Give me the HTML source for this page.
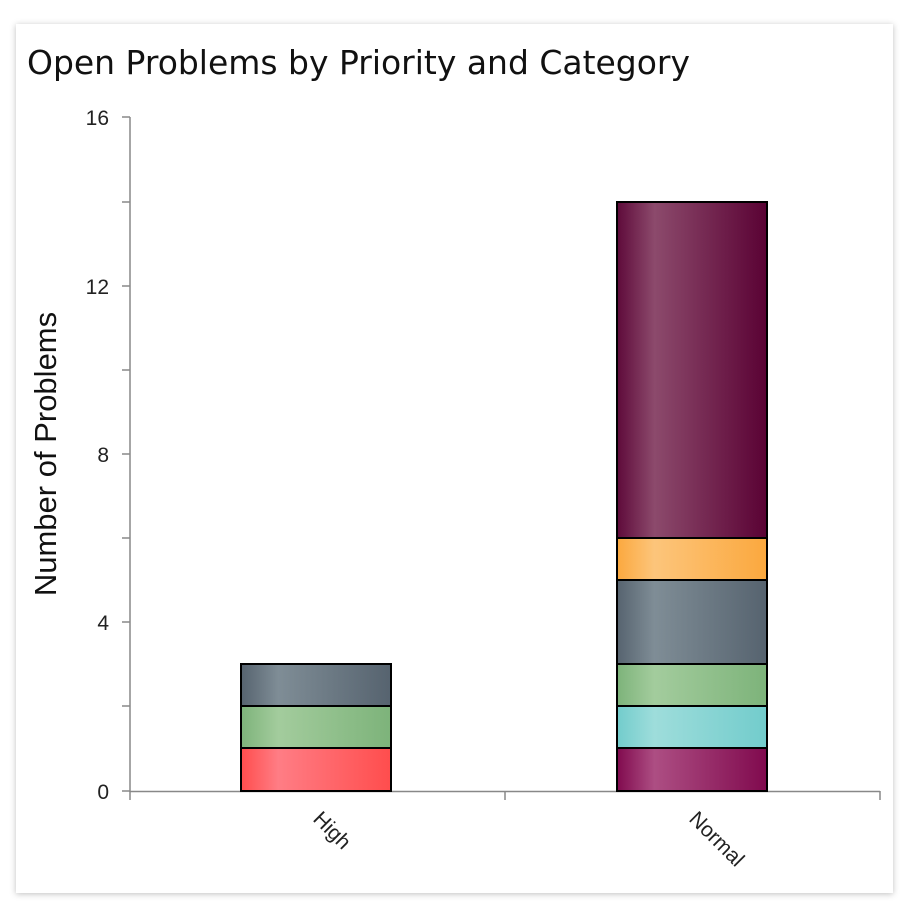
<!DOCTYPE html>
<html><head><style>
body{margin:0;background:#fff;width:903px;height:911px;overflow:hidden}
.card{position:absolute;left:16px;top:24px;width:877px;height:869px;background:#fff;box-shadow:0 1px 6px rgba(0,0,0,0.25)}
svg{position:absolute;left:0;top:0}
text{font-family:"Liberation Sans",sans-serif;fill:#222}
</style></head><body>
<div class="card"></div>
<svg width="903" height="911">
<defs>
<linearGradient id="mar"><stop offset="0" stop-color="#5e0a3a"/><stop offset=".25" stop-color="#8c4a6c"/><stop offset="1" stop-color="#5a0234"/></linearGradient>
<linearGradient id="ora"><stop offset="0" stop-color="#fba83e"/><stop offset=".25" stop-color="#fcc57b"/><stop offset="1" stop-color="#fba83e"/></linearGradient>
<linearGradient id="gra"><stop offset="0" stop-color="#56636f"/><stop offset=".25" stop-color="#7f8d96"/><stop offset="1" stop-color="#56636f"/></linearGradient>
<linearGradient id="gre"><stop offset="0" stop-color="#7db37a"/><stop offset=".25" stop-color="#a3cc9d"/><stop offset="1" stop-color="#7db37a"/></linearGradient>
<linearGradient id="cya"><stop offset="0" stop-color="#72cccc"/><stop offset=".25" stop-color="#9edddb"/><stop offset="1" stop-color="#72cccc"/></linearGradient>
<linearGradient id="mag"><stop offset="0" stop-color="#800a4e"/><stop offset=".25" stop-color="#ad4e83"/><stop offset="1" stop-color="#800a4e"/></linearGradient>
<linearGradient id="red"><stop offset="0" stop-color="#ff4d4d"/><stop offset=".25" stop-color="#ff7d85"/><stop offset="1" stop-color="#ff4d4d"/></linearGradient>
</defs>
<text x="27" y="74" style="font-family:'DejaVu Sans','Liberation Sans',sans-serif;fill:#111" font-size="33" textLength="663" lengthAdjust="spacingAndGlyphs">Open Problems by Priority and Category</text>
<g stroke="#888" stroke-width="1.5">
<line x1="130" y1="117" x2="130" y2="792"/>
<line x1="130" y1="791.5" x2="880" y2="791.5"/>
<line x1="122" y1="117" x2="130" y2="117"/><line x1="122" y1="202" x2="130" y2="202"/>
<line x1="122" y1="286" x2="130" y2="286"/><line x1="122" y1="370" x2="130" y2="370"/>
<line x1="122" y1="454" x2="130" y2="454"/><line x1="122" y1="538" x2="130" y2="538"/>
<line x1="122" y1="622" x2="130" y2="622"/><line x1="122" y1="706" x2="130" y2="706"/>
<line x1="122" y1="791" x2="130" y2="791"/>
<line x1="130" y1="791" x2="130" y2="800"/><line x1="505" y1="791" x2="505" y2="800"/><line x1="880" y1="791" x2="880" y2="800"/>
</g>
<g font-size="21" text-anchor="end">
<text x="109" y="125">16</text><text x="109" y="294">12</text><text x="109" y="462">8</text>
<text x="109" y="630">4</text><text x="109" y="799">0</text>
</g>
<text transform="translate(56,454) rotate(-90)" font-size="31" text-anchor="middle" style="fill:#111">Number of Problems</text>
<text transform="translate(312,820) rotate(45)" font-size="21">High</text>
<text transform="translate(688,820) rotate(45)" font-size="21">Normal</text>
<g stroke="#000" stroke-width="2">
<rect x="241" y="748" width="150" height="43" fill="url(#red)"/>
<rect x="241" y="706" width="150" height="42" fill="url(#gre)"/>
<rect x="241" y="664" width="150" height="42" fill="url(#gra)"/>
<rect x="617" y="748" width="150" height="43" fill="url(#mag)"/>
<rect x="617" y="706" width="150" height="42" fill="url(#cya)"/>
<rect x="617" y="664" width="150" height="42" fill="url(#gre)"/>
<rect x="617" y="580" width="150" height="84" fill="url(#gra)"/>
<rect x="617" y="538" width="150" height="42" fill="url(#ora)"/>
<rect x="617" y="202" width="150" height="336" fill="url(#mar)"/>
</g>
</svg>
</body></html>
